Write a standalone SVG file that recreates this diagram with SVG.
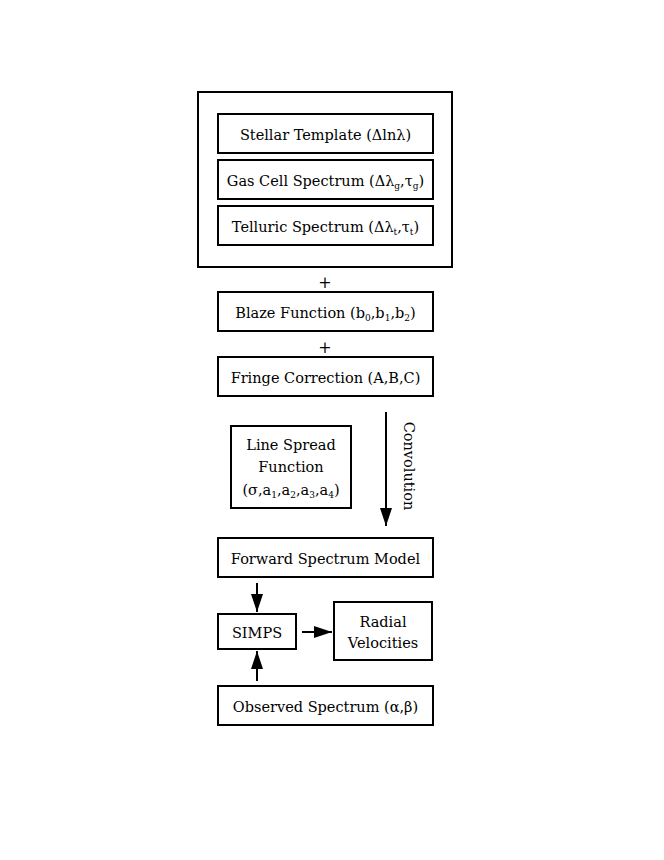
<svg xmlns="http://www.w3.org/2000/svg" width="664" height="860" viewBox="0 0 664 860">
<defs>
<marker id="ahl" viewBox="0 0 10 10" refX="10" refY="5" markerWidth="18" markerHeight="12" markerUnits="userSpaceOnUse" orient="auto" preserveAspectRatio="none">
<path d="M0,0 L10,5 L0,10 z" fill="#000"/>
</marker>
</defs>
<style>
rect{fill:#fff;stroke:#000;stroke-width:2}
text{font-family:"DejaVu Serif","Liberation Serif",serif;font-size:14.5px;fill:#000;text-anchor:middle}
.sub{font-size:9px}
.plus{font-size:16px}
line{stroke:#000;stroke-width:2}
</style>
<rect width="664" height="860" style="stroke:none"/>
<g id="container"><rect x="198" y="92" width="254" height="175"/></g>
<g id="stellar"><rect x="218" y="114" width="215" height="39"/><text x="325.5" y="140">Stellar Template (Δlnλ)</text></g>
<g id="gascell"><rect x="218" y="160" width="215" height="39"/><text x="325.5" y="186">Gas Cell Spectrum (Δλ<tspan class="sub" dy="3">g</tspan><tspan dy="-3">,τ</tspan><tspan class="sub" dy="3">g</tspan><tspan dy="-3">)</tspan></text></g>
<g id="telluric"><rect x="218" y="206" width="215" height="39"/><text x="325.5" y="232">Telluric Spectrum (Δλ<tspan class="sub" dy="3">t</tspan><tspan dy="-3">,τ</tspan><tspan class="sub" dy="3">t</tspan><tspan dy="-3">)</tspan></text></g>
<text class="plus" x="325" y="288">+</text>
<g id="blaze"><rect x="218" y="292" width="215" height="39"/><text x="325.5" y="318">Blaze Function (b<tspan class="sub" dy="3">0</tspan><tspan dy="-3">,b</tspan><tspan class="sub" dy="3">1</tspan><tspan dy="-3">,b</tspan><tspan class="sub" dy="3">2</tspan><tspan dy="-3">)</tspan></text></g>
<text class="plus" x="325" y="353">+</text>
<g id="fringe"><rect x="218" y="357" width="215" height="39"/><text x="325.5" y="383">Fringe Correction (A,B,C)</text></g>
<g id="lsf"><rect x="231" y="426" width="120" height="82"/><text x="291" y="450">Line Spread</text><text x="291" y="472">Function</text><text x="291" y="495">(σ,a<tspan class="sub" dy="3">1</tspan><tspan dy="-3">,a</tspan><tspan class="sub" dy="3">2</tspan><tspan dy="-3">,a</tspan><tspan class="sub" dy="3">3</tspan><tspan dy="-3">,a</tspan><tspan class="sub" dy="3">4</tspan><tspan dy="-3">)</tspan></text></g>
<text transform="translate(404,466) rotate(90)">Convolution</text>
<g id="forward"><rect x="218" y="538" width="215" height="39"/><text x="325.5" y="564">Forward Spectrum Model</text></g>
<g id="simps"><rect x="218" y="614" width="78" height="35"/><text x="257" y="638">SIMPS</text></g>
<g id="rv"><rect x="334" y="602" width="98" height="58"/><text x="383" y="627">Radial</text><text x="383" y="648">Velocities</text></g>
<g id="observed"><rect x="218" y="686" width="215" height="39"/><text x="325.5" y="712">Observed Spectrum (α,β)</text></g>
<g id="connectors">
<line x1="386" y1="412" x2="386" y2="526" marker-end="url(#ahl)"/>
<line x1="257" y1="583" x2="257" y2="612" marker-end="url(#ahl)"/>
<line x1="302" y1="632" x2="332" y2="632" marker-end="url(#ahl)"/>
<line x1="257" y1="681" x2="257" y2="651" marker-end="url(#ahl)"/>
</g>
</svg>
